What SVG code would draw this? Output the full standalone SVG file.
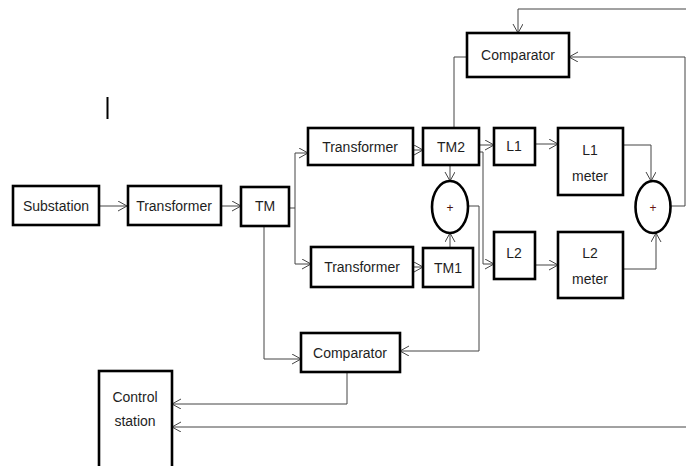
<svg xmlns="http://www.w3.org/2000/svg" width="686" height="466" viewBox="0 0 686 466">
<defs>
<marker id="arr" markerUnits="userSpaceOnUse" markerWidth="12" markerHeight="12" refX="9" refY="5" orient="auto">
<path d="M0,0 L9,5 L0,10" fill="none" stroke="#444" stroke-width="1"/>
</marker>
<style>
.box{fill:#fff;stroke:#000;stroke-width:2.6}
.ell{fill:#fff;stroke:#000;stroke-width:2.6}
.t{font-family:"Liberation Sans",Arial,sans-serif;font-size:14px;fill:#1e1e1e;text-anchor:middle}
.p{font-family:"Liberation Sans",Arial,sans-serif;font-size:12px;text-anchor:middle}
.c{fill:none;stroke:#444;stroke-width:1}
.ca{fill:none;stroke:#444;stroke-width:1;marker-end:url(#arr)}
</style>
</defs>
<rect width="686" height="466" fill="#fff"/>
<g id="connectors">
<path class="ca" d="M99,206 H127"/>
<path class="ca" d="M221,206 H241"/>
<path class="c" d="M289,208 H295"/>
<path class="c" d="M295,153 V264"/>
<path class="ca" d="M295,153 H308"/>
<path class="ca" d="M295,264 H311"/>
<path class="ca" d="M413,150 H423"/>
<path class="ca" d="M413,267 H423"/>
<path class="ca" d="M450,165 V181"/>
<path class="ca" d="M450,248 V233"/>
<path class="ca" d="M468,206 H479 V351 H400"/>
<path class="ca" d="M479,145 H494"/>
<path class="ca" d="M479,152 H483 V264 H494"/>
<path class="ca" d="M535,144 H558"/>
<path class="ca" d="M535,265 H558"/>
<path class="ca" d="M623,145 H651 V181"/>
<path class="ca" d="M623,269 H656 V233"/>
<path class="ca" d="M671,206 H685 V57 H569"/>
<path class="ca" d="M686,9 H518 V33"/>
<path class="c" d="M467,57 H454 V128"/>
<path class="ca" d="M264,226 V359 H301"/>
<path class="ca" d="M347,372 V404 H172"/>
<path class="ca" d="M686,427 H172"/>
</g>
<line x1="107.5" y1="97" x2="107.5" y2="119" stroke="#000" stroke-width="2"/>
<g id="substation"><rect class="box" x="13" y="186" width="86" height="39"/><text class="t" x="56" y="211">Substation</text></g>
<g id="transformer0"><rect class="box" x="128" y="186" width="93" height="39"/><text class="t" x="174" y="211">Transformer</text></g>
<g id="tm"><rect class="box" x="241" y="187" width="48" height="39"/><text class="t" x="265" y="211">TM</text></g>
<g id="transformer1"><rect class="box" x="308" y="128" width="105" height="37"/><text class="t" x="360" y="152">Transformer</text></g>
<g id="transformer2"><rect class="box" x="311" y="247" width="102" height="40"/><text class="t" x="362" y="272">Transformer</text></g>
<g id="tm2"><rect class="box" x="423" y="128" width="56" height="37"/><text class="t" x="451" y="152">TM2</text></g>
<g id="tm1"><rect class="box" x="423" y="248" width="50" height="39"/><text class="t" x="448" y="273">TM1</text></g>
<g id="sum1"><ellipse class="ell" cx="450" cy="207" rx="18" ry="26"/><text class="p" x="450" y="212" fill="#4a1010">+</text></g>
<g id="l1"><rect class="box" x="494" y="128" width="41" height="37"/><text class="t" x="514" y="151">L1</text></g>
<g id="l2"><rect class="box" x="494" y="232" width="41" height="47"/><text class="t" x="514" y="258">L2</text></g>
<g id="l1meter"><rect class="box" x="558" y="128" width="65" height="67"/><text class="t" x="590" y="155">L1</text><text class="t" x="590" y="181">meter</text></g>
<g id="l2meter"><rect class="box" x="558" y="232" width="65" height="66"/><text class="t" x="590" y="258">L2</text><text class="t" x="590" y="284">meter</text></g>
<g id="sum2"><ellipse class="ell" cx="653" cy="207" rx="17.5" ry="26"/><text class="p" x="653" y="212" fill="#6a1515">+</text></g>
<g id="comparator1"><rect class="box" x="467" y="33" width="102" height="44"/><text class="t" x="518" y="60">Comparator</text></g>
<g id="comparator2"><rect class="box" x="301" y="333" width="99" height="39"/><text class="t" x="350" y="358">Comparator</text></g>
<g id="control"><rect class="box" x="99" y="371" width="73" height="100"/><text class="t" x="135" y="402">Control</text><text class="t" x="135" y="426">station</text></g>
</svg>
